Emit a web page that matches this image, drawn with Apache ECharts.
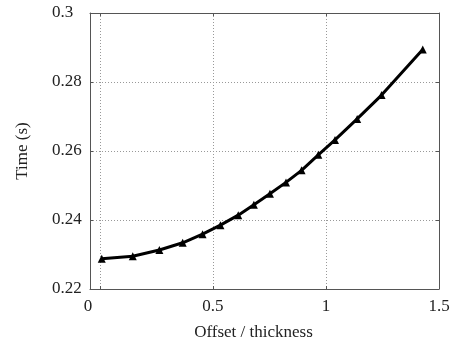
<!DOCTYPE html>
<html>
<head>
<meta charset="utf-8">
<script src="https://cdn.jsdelivr.net/npm/echarts@6/dist/echarts.min.js"></script>
<style>
html,body{margin:0;padding:0;background:#fff;}
#chart{width:458px;height:341px;}
</style>
</head>
<body>
<div id="chart"></div>
<script>
// offset/thickness vs. time
var offsetVals = [0.008, 0.145, 0.263, 0.366, 0.454, 0.533, 0.612, 0.681, 0.752, 0.823, 0.892, 0.966, 1.040, 1.138, 1.246, 1.428];
var timeVals   = [0.2288, 0.2295, 0.2313, 0.2334, 0.2359, 0.2385, 0.2414, 0.2444, 0.2476, 0.2509, 0.2544, 0.2589, 0.2632, 0.2693, 0.2762, 0.2894];
var xTicks = [0, 0.5, 1, 1.5];
var yTicks = [0.22, 0.24, 0.26, 0.28, 0.3];

var fontFam = '"Liberation Serif", "Times New Roman", serif';
var axisCol = '#555';

var points = [];
for (var i = 0; i < offsetVals.length; i++) {
	points.push([offsetVals[i], timeVals[i]]);
}

var myChart = echarts.init(document.getElementById('chart'));
var option = {
	animation: false,
	backgroundColor: '#fff',
	grid: { left: 90, right: 19, top: 13, bottom: 52, outerBoundsMode: 'none' },
	xAxis: [
		{
			type: 'value',
			min: -0.044,
			max: 1.5,
			name: 'Offset / thickness',
			nameLocation: 'middle',
			nameGap: 35,
			nameTextStyle: { fontFamily: fontFam, fontSize: 17, color: '#222', padding: [0, 22, 0, 0] },
			axisLine: { show: true, onZero: false, lineStyle: { color: axisCol, width: 1 } },
			axisTick: { show: true, inside: true, length: 3, customValues: xTicks, lineStyle: { color: axisCol } },
			axisLabel: {
				customValues: xTicks,
				margin: 9,
				fontFamily: fontFam, fontSize: 17, color: '#222',
				formatter: function (v) { return v === 0 ? '{z|0}' : String(v); },
				rich: { z: { fontFamily: fontFam, fontSize: 17, color: '#222', padding: [0, 24, 0, 0] } }
			},
			splitLine: { show: true, lineStyle: { color: '#999', type: [1, 2], width: 1 } }
		},
		{
			type: 'value',
			position: 'top',
			min: -0.044,
			max: 1.5,
			axisLine: { show: true, onZero: false, lineStyle: { color: axisCol, width: 1 } },
			axisTick: { show: true, inside: true, length: 3, customValues: xTicks, lineStyle: { color: axisCol } },
			axisLabel: { show: false },
			splitLine: { show: false }
		}
	],
	yAxis: [
		{
			type: 'value',
			min: 0.22,
			max: 0.3,
			interval: 0.02,
			name: 'Time (s)',
			nameLocation: 'middle',
			nameGap: 59,
			nameTextStyle: { fontFamily: fontFam, fontSize: 17, color: '#222' },
			axisLine: { show: true, onZero: false, lineStyle: { color: axisCol, width: 1 } },
			axisTick: { show: true, inside: true, length: 3, lineStyle: { color: axisCol } },
			axisLabel: {
				align: 'left',
				margin: 38,
				fontFamily: fontFam, fontSize: 17, color: '#222',
				formatter: function (v) { return String(+v.toFixed(2)); }
			},
			splitLine: { show: true, lineStyle: { color: '#999', type: [1, 2], width: 1 } }
		},
		{
			type: 'value',
			position: 'right',
			min: 0.22,
			max: 0.3,
			interval: 0.02,
			axisLine: { show: true, onZero: false, lineStyle: { color: axisCol, width: 1 } },
			axisTick: { show: true, inside: true, length: 3, lineStyle: { color: axisCol } },
			axisLabel: { show: false },
			splitLine: { show: false }
		}
	],
	series: [
		{
			type: 'line',
			data: points,
			symbol: 'triangle',
			symbolSize: 8,
			lineStyle: { color: '#000', width: 3 },
			itemStyle: { color: '#000' }
		}
	]
};
myChart.setOption(option);
</script>
</body>
</html>
